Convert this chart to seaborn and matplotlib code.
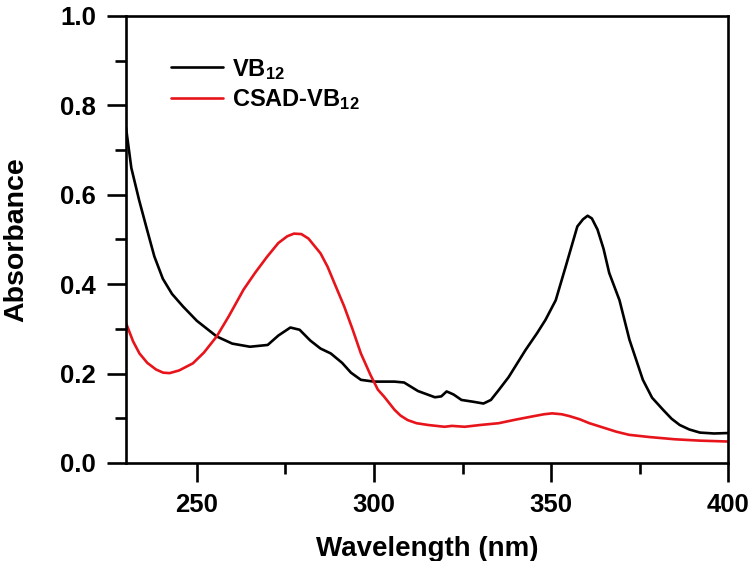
import numpy as np
import pandas as pd
import seaborn as sns
import matplotlib
matplotlib.use("Agg")
import matplotlib.pyplot as plt
from matplotlib.ticker import MultipleLocator

# black trace: free VB12
vb12_wl = [230, 231.5, 233.7, 236, 238, 240.4, 243, 246.1, 250, 255.6, 260, 265, 270, 273,
           276.4, 279, 282, 284.9, 287.8, 291, 293.5, 296.3, 300, 305.8, 308.5, 312.4,
           317.2, 319, 320.5, 321.4, 322.5, 324.7, 328, 330.9, 333, 335.2, 338, 342.8,
           346, 348.4, 351.3, 354.1, 357.4, 359, 360.3, 361.5, 363.1, 364.8, 366.4,
           369.3, 372.1, 375.9, 378.5, 381.6, 384, 386.3, 389, 392, 396, 400]
vb12_abs = [0.750, 0.66, 0.588, 0.52, 0.462, 0.412, 0.378, 0.350, 0.318, 0.283, 0.267,
            0.260, 0.264, 0.285, 0.303, 0.298, 0.274, 0.256, 0.245, 0.224, 0.202, 0.186,
            0.182, 0.182, 0.180, 0.161, 0.147, 0.149, 0.160, 0.157, 0.153, 0.141, 0.137,
            0.133, 0.141, 0.163, 0.192, 0.253, 0.290, 0.320, 0.364, 0.439, 0.529, 0.545,
            0.553, 0.547, 0.522, 0.479, 0.425, 0.364, 0.276, 0.186, 0.146, 0.119, 0.099,
            0.085, 0.075, 0.068, 0.066, 0.067]

# red trace: CSAD-VB12
csad_wl = [230, 232, 233.8, 236, 238.5, 240.5, 242.3, 245, 248.9, 252, 255.6, 259, 263.2,
           266.5, 269.8, 273, 275.5, 277.4, 279.5, 281.5, 284.9, 286.9, 289, 291.6,
           294, 296.3, 299, 301.1, 302.9, 305.8, 307.5, 309.5, 312, 315.3, 319.9, 322,
           325.6, 330, 335.2, 340, 344.6, 348, 350.3, 353, 355.1, 358, 360.8, 364, 368.4,
           372, 377.8, 385, 392, 400]
csad_abs = [0.313, 0.272, 0.245, 0.224, 0.209, 0.202, 0.201, 0.207, 0.223, 0.247, 0.283,
            0.328, 0.388, 0.426, 0.461, 0.492, 0.507, 0.513, 0.512, 0.502, 0.469, 0.439,
            0.399, 0.350, 0.298, 0.245, 0.197, 0.164, 0.148, 0.119, 0.106, 0.096, 0.089,
            0.085, 0.081, 0.083, 0.081, 0.085, 0.089, 0.097, 0.104, 0.109, 0.111, 0.109,
            0.105, 0.098, 0.089, 0.081, 0.070, 0.063, 0.058, 0.053, 0.050, 0.048]

labels = ["VB$_{12}$", "CSAD-VB$_{12}$"]
colors = ["#000000", "#e8141b"]

sns.set_style("ticks")
fam = "Liberation Sans"
plt.rcParams["font.family"] = [fam, "DejaVu Sans"]
plt.rcParams["font.weight"] = "bold"
plt.rcParams["text.color"] = "black"
plt.rcParams["axes.labelcolor"] = "black"
plt.rcParams["xtick.color"] = "black"
plt.rcParams["ytick.color"] = "black"
plt.rcParams["axes.edgecolor"] = "black"
plt.rcParams["mathtext.fontset"] = "custom"
plt.rcParams["mathtext.rm"] = fam + ":bold"
plt.rcParams["mathtext.bf"] = fam + ":bold"
plt.rcParams["mathtext.it"] = fam + ":bold"
plt.rcParams["mathtext.default"] = "bf"

df = pd.concat([
    pd.DataFrame({"wl": vb12_wl, "abs": vb12_abs, "sample": labels[0]}),
    pd.DataFrame({"wl": csad_wl, "abs": csad_abs, "sample": labels[1]}),
])

fig = plt.figure(figsize=(7.5, 5.61), dpi=100)
ax = fig.add_axes([0.168, 0.1747, 0.803, 0.797])
sns.lineplot(data=df, x="wl", y="abs", hue="sample", palette=colors, sort=False,
             linewidth=1.9, ax=ax)

ax.set_xlim(230, 400)
ax.set_ylim(0, 1.0)
ax.xaxis.set_major_locator(MultipleLocator(50))
ax.xaxis.set_minor_locator(MultipleLocator(25))
ax.yaxis.set_minor_locator(MultipleLocator(0.1))
ax.set_yticks([0, 0.2, 0.4, 0.6, 0.8, 1.0])
ax.set_yticklabels(["0.0", "0.2", "0.4", "0.6", "0.8", "1.0"])
ax.tick_params(which="major", direction="out", length=13.5, width=1.9, labelsize=18.5)
ax.tick_params(axis="x", which="major", pad=8)
ax.tick_params(axis="y", which="major", pad=8)
ax.tick_params(which="minor", direction="out", length=8, width=1.9)
for s in ax.spines.values():
    s.set_linewidth(1.9)

ax.set_xlabel("Wavelength (nm)", fontsize=20, fontweight="bold", labelpad=14)
ax.set_ylabel("Absorbance", fontsize=20.5, fontweight="bold", labelpad=22)

ax.legend(frameon=False, fontsize=17, loc="upper left", bbox_to_anchor=(0.055, 0.935),
          borderpad=0, handlelength=2.2, handletextpad=0.4, labelspacing=0.25)

fig.savefig("out.png", dpi=100)
